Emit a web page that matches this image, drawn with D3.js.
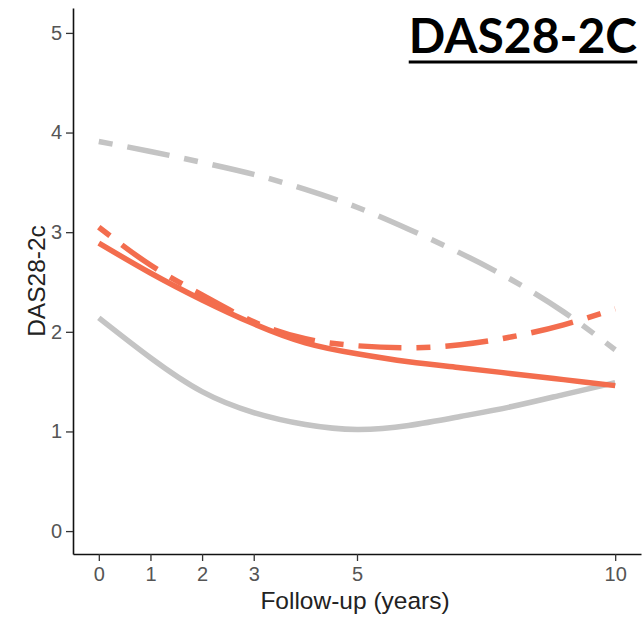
<!DOCTYPE html>
<html>
<head>
<meta charset="utf-8">
<script src="https://cdn.jsdelivr.net/npm/d3@7"></script>
<style>
  body { margin: 0; background: #fff; }
  svg { display: block; }
</style>
</head>
<body>
<div id="chart"></div>
<script>
// follow-up years and fitted DAS28-2c curves
const years = [0, 1, 2, 3, 4, 5, 6, 7, 8, 9, 10];
const xTicks = [0, 1, 2, 3, 5, 10];
const yTicks = [0, 1, 2, 3, 4, 5];

const greySolid  = [2.14, 1.74, 1.40, 1.19, 1.07, 1.02, 1.06, 1.15, 1.25, 1.37, 1.49];
const greyDash   = [3.91, 3.81, 3.70, 3.58, 3.43, 3.25, 3.03, 2.79, 2.52, 2.20, 1.82];
const orangeSolid = [2.89, 2.59, 2.32, 2.08, 1.89, 1.78, 1.70, 1.64, 1.58, 1.52, 1.46];
const orangeDash  = [3.05, 2.67, 2.37, 2.10, 1.93, 1.86, 1.84, 1.87, 1.95, 2.07, 2.23];

const grey = "#c4c4c4";
const orange = "#f36d4e";
const dotdash = "14,15,43,15";

const series = [
    { values: greySolid, color: grey, dash: null },
    { values: greyDash, color: grey, dash: dotdash },
    { values: orangeDash, color: orange, dash: dotdash },
    { values: orangeSolid, color: orange, dash: null }
];

const width = 644, height = 620;
const margin = { left: 73, right: 3, top: 8, bottom: 66 };
const font = "'Liberation Sans', Arial, sans-serif";

const svg = d3.select("#chart").append("svg")
    .attr("width", width)
    .attr("height", height);

const x = d3.scaleLinear().domain([-0.5, 10.5]).range([margin.left, width - margin.right]);
const y = d3.scaleLinear().domain([-0.23, 5.25]).range([height - margin.bottom, margin.top]);

// axes
const xAxis = svg.append("g")
    .attr("transform", `translate(0,${height - margin.bottom})`)
    .call(d3.axisBottom(x).tickValues(xTicks).tickFormat(d3.format("d"))
        .tickSize(7).tickPadding(6).tickSizeOuter(0));

const yAxis = svg.append("g")
    .attr("transform", `translate(${margin.left},0)`)
    .call(d3.axisLeft(y).tickValues(yTicks).tickFormat(d3.format("d"))
        .tickSize(7).tickPadding(4).tickSizeOuter(0));

[xAxis, yAxis].forEach(g => {
    g.select(".domain").attr("stroke", "#111").attr("stroke-width", 1.6);
    g.selectAll(".tick line").attr("stroke", "#333").attr("stroke-width", 1.3);
    g.selectAll(".tick text")
        .attr("fill", "#555")
        .style("font-family", font)
        .style("font-size", "20px");
});

// curves
const line = d3.line()
    .x((d, i) => x(years[i]))
    .y(d => y(d))
    .curve(d3.curveNatural);

svg.append("g")
    .selectAll("path")
    .data(series)
    .enter().append("path")
    .attr("d", d => line(d.values))
    .attr("fill", "none")
    .attr("stroke", d => d.color)
    .attr("stroke-width", 5.5)
    .attr("stroke-dasharray", d => d.dash);

// axis titles
svg.append("text")
    .attr("x", 355)
    .attr("y", 609)
    .attr("text-anchor", "middle")
    .style("font-family", font)
    .style("font-size", "24.5px")
    .attr("fill", "#222")
    .text("Follow-up (years)");

svg.append("text")
    .attr("transform", `translate(45,${(margin.top + height - margin.bottom) / 2}) rotate(-90)`)
    .attr("text-anchor", "middle")
    .style("font-family", font)
    .style("font-size", "24.5px")
    .attr("fill", "#222")
    .text("DAS28-2c");

// panel title, underlined
const title = svg.append("text")
    .attr("x", 637)
    .attr("y", 53)
    .attr("text-anchor", "end")
    .style("font-family", "Lato, 'Open Sans', sans-serif")
    .style("font-weight", "bold")
    .style("font-size", "48px")
    .attr("fill", "#000")
    .text("DAS28-2C");

const tb = title.node().getBBox();
svg.append("line")
    .attr("x1", tb.x)
    .attr("x2", tb.x + tb.width)
    .attr("y1", 62)
    .attr("y2", 62)
    .attr("stroke", "#000")
    .attr("stroke-width", 3);
</script>
</body>
</html>
